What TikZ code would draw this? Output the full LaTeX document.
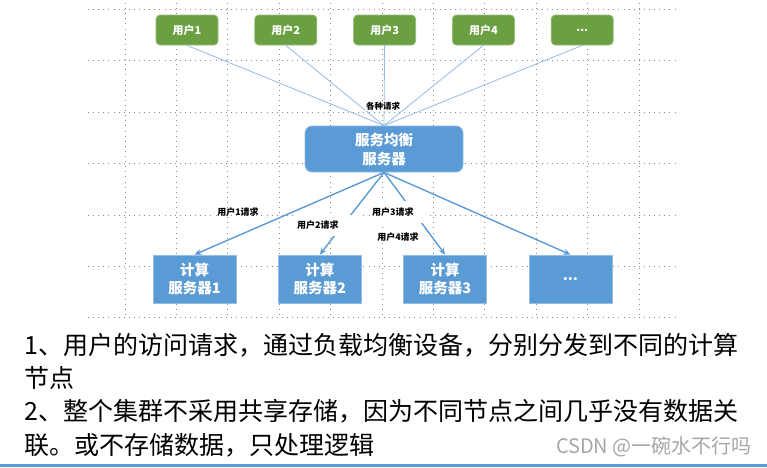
\documentclass[tikz,border=0pt]{standalone}
\usepackage{fontspec}
\setmainfont{Noto Sans CJK SC}
\usetikzlibrary{positioning,arrows.meta}
\definecolor{usergreen}{RGB}{106,160,66}
\definecolor{srvblue}{RGB}{91,155,213}
\definecolor{linkblue}{RGB}{150,186,228}
\definecolor{gridgray}{RGB}{140,140,140}
\newcommand\pxfont[2]{\fontsize{#1}{#2}\selectfont}
\tikzset{userbox/.style={rectangle, rounded corners=4pt, draw=usergreen!70!white,
  fill=usergreen, line width=0.8pt, minimum width=62pt, minimum height=30pt,
  text=white, font=\pxfont{11}{13}\bfseries}}
\tikzset{lbbox/.style={rectangle, rounded corners=7pt, draw=srvblue!70!white,
  fill=srvblue, line width=0.8pt, minimum width=158pt, minimum height=46pt,
  text=white, align=center, font=\pxfont{14.5}{19}\bfseries}}
\tikzset{calcbox/.style={rectangle, draw=srvblue!65!white, fill=srvblue,
  line width=0.8pt, minimum width=83pt, minimum height=48pt,
  text=white, align=center, font=\pxfont{14.5}{17.5}\bfseries}}
\tikzset{reqlbl/.style={font=\pxfont{9}{11}\bfseries, inner sep=1pt}}
\tikzset{gridline/.style={draw=gridgray, line width=0.7pt, dash pattern=on 0.8pt off 4.3pt}}
\tikzset{userlink/.style={draw=linkblue, line width=0.8pt}}
\tikzset{reqarrow/.style={draw=srvblue, line width=1.4pt}}

\begin{document}
\begin{tikzpicture}[x=1pt, y=-1pt, >={Stealth[length=7pt,width=6pt]}, node distance=36pt]
  \useasboundingbox (0,0) rectangle (767,467);
  % dotted grid behind the diagram
  \foreach \gy in {9,60.5,112,163.5,215,266.5,317}
    \draw[gridline] (88,\gy) -- (676,\gy);
  \foreach \k in {0,...,10}
    \draw[gridline] (125+51.4*\k,3) -- (125+51.4*\k,317);

  % users
  \node[userbox] (u1) at (187,30) {用户1};
  \node[userbox, right=of u1] (u2) {用户2};
  \node[userbox, right=of u2] (u3) {用户3};
  \node[userbox, right=of u3] (u4) {用户4};
  \node[userbox, right=of u4] (u5) {...};

  % load balancer
  \node[lbbox] (lb) at (384,149) {服务均衡\\服务器};

  % compute servers
  \node[calcbox] (c1) at (194.5,279) {计算\\服务器1};
  \node[calcbox, right=41.5pt of c1] (c2) {计算\\服务器2};
  \node[calcbox, right=41.5pt of c2] (c3) {计算\\服务器3};
  \node[calcbox, right=41.5pt of c3] (c4) {...};

  \foreach \usr in {u1,u2,u3,u4,u5}
    \draw[userlink] (\usr.south) -- (lb.north);
  \foreach \srv in {c1,c2,c3,c4}
    \draw[reqarrow,->] (lb.south) -- (\srv.north);

  \node[reqlbl, fill=white, font=\pxfont{8.5}{10}\bfseries] (allreq) at (383,106) {各种请求};
  \node[reqlbl] (req1) at (238,212) {用户1请求};
  \node[reqlbl, fill=white, anchor=west, text width=62pt, align=left,
    minimum height=21pt] (req2) at (296,225) {用户2请求};
  \node[reqlbl, fill=white, anchor=west, text width=54pt, align=left,
    minimum height=22pt] (req3) at (371,212) {用户3请求};
  \node[reqlbl] (req4) at (398,237) {用户4请求};

  % notes below
  \node[anchor=north west, inner sep=0pt, align=left, font=\pxfont{25}{33.3}] (notes) at (24,333)
    {1、用户的访问请求，通过负载均衡设备，分别分发到不同的计算\\
     节点\\
     2、整个集群不采用共享存储，因为不同节点之间几乎没有数据关\\
     联。或不存储数据，只处理逻辑};
  \node[anchor=east, inner sep=0pt, text=gray!70, font=\pxfont{20}{22}] (mark) at (752,447)
    {CSDN @一碗水不行吗};
  \draw[srvblue, line width=3pt] (0,465.5) -- (767,465.5);
\end{tikzpicture}
\end{document}
